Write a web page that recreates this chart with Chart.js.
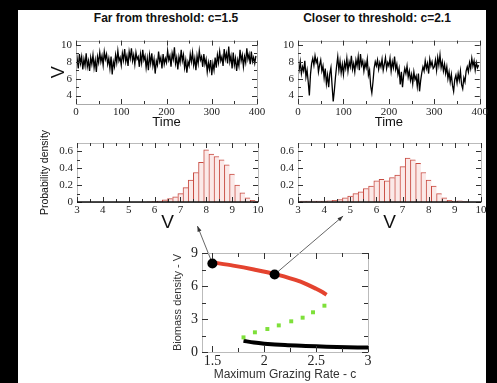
<!DOCTYPE html>
<html>
<head>
<meta charset="utf-8">
<script src="https://cdn.jsdelivr.net/npm/chart.js@4.4.1/dist/chart.umd.min.js"></script>
<style>
    html, body { margin: 0; padding: 0; background: #000; width: 497px; height: 383px; overflow: hidden; }
    #paper { position: absolute; left: 18px; top: 10px; width: 468px; height: 373px; background: #fff; }
    canvas { position: absolute; }
    .panel-title {
        position: absolute; transform: translateX(-50%); white-space: nowrap;
        font: bold 12px "Liberation Sans", Arial, sans-serif; color: #111;
    }
</style>
</head>
<body>
<div id="paper"></div>
<div class="panel-title" style="left:166px; top:11px;">Far from threshold: c=1.5</div>
<div class="panel-title" style="left:377px; top:11px;">Closer to threshold: c=2.1</div>
<canvas id="tsLeft" width="250" height="100" style="left:20px; top:30px;"></canvas>
<canvas id="tsRight" width="240" height="100" style="left:250px; top:30px;"></canvas>
<canvas id="histLeft" width="250" height="115" style="left:25px; top:120px;"></canvas>
<canvas id="histRight" width="240" height="115" style="left:250px; top:120px;"></canvas>
<canvas id="bifurcation" width="245" height="188" style="left:140px; top:195px;"></canvas>

<script>
/**
 * Biomass time series, histograms and bifurcation diagram
 */

// time series (one value every 2.5 time units, t = 0 ... 397.5)
const TIME_STEP = 2.5;
const V_FAR = [
    7.6, 8.4, 7.2, 8.9, 7.8, 8.6, 7.1, 8.3, 7.5, 9.0,
    7.4, 8.1, 6.9, 8.5, 7.7, 8.8, 7.3, 8.2, 6.8, 8.6,
    7.9, 9.1, 8.0, 8.7, 7.6, 9.2, 8.3, 8.9, 7.7, 8.4,
    7.2, 8.6, 6.5, 8.0, 7.4, 8.8, 7.9, 9.3, 8.1, 8.5,
    7.6, 9.0, 8.2, 9.5, 8.0, 8.7, 7.5, 9.2, 8.4, 9.6,
    8.1, 8.8, 7.7, 9.1, 8.3, 8.6, 7.4, 8.9, 7.9, 9.4,
    8.2, 8.7, 7.3, 8.4, 7.0, 8.8, 7.8, 9.0, 7.5, 8.3,
    6.6, 8.1, 7.6, 9.2, 8.0, 8.5, 7.2, 8.9, 7.7, 8.4,
    7.9, 9.3, 8.2, 8.7, 7.4, 9.0, 8.3, 9.7, 7.8, 8.5,
    7.1, 8.6, 7.9, 9.4, 8.1, 8.8, 7.3, 8.2, 6.7, 8.0,
    7.5, 8.9, 8.0, 9.1, 7.6, 8.4, 7.0, 8.7, 7.8, 9.3,
    8.2, 8.6, 7.4, 8.9, 7.7, 8.3, 6.8, 7.9, 7.1, 8.2,
    6.4, 7.8, 7.0, 8.5, 7.3, 8.8, 7.9, 9.2, 8.1, 8.6,
    7.5, 9.5, 8.3, 9.0, 7.8, 9.8, 8.0, 8.7, 7.2, 9.1,
    7.6, 8.4, 6.9, 8.2, 7.5, 9.4, 8.1, 8.8, 7.4, 8.6,
    7.9, 9.6, 8.3, 8.9, 7.7, 9.2, 8.0, 8.5, 7.8, 8.7
];
const V_CLOSE = [
    7.6, 7.0, 8.0, 6.6, 7.4, 6.9, 8.1, 6.2, 7.0, 5.6,
    4.0, 6.5, 7.8, 8.4, 7.6, 8.7, 7.9, 8.3, 6.8, 7.6,
    8.2, 6.9, 7.5, 6.1, 7.2, 5.4, 6.4, 5.0, 6.6, 7.3,
    5.2, 3.3, 4.6, 6.2, 7.5, 8.6, 7.0, 8.1, 6.7, 7.7,
    6.5, 7.9, 7.2, 8.4, 6.9, 8.0, 7.4, 8.7, 7.1, 7.8,
    6.8, 8.2, 7.5, 8.6, 7.0, 8.9, 7.6, 8.1, 6.9, 7.9,
    7.3, 8.3, 6.4, 7.0, 5.1, 4.3, 5.6, 7.2, 8.0, 7.5,
    8.2, 7.1, 7.9, 7.4, 8.3, 7.0, 7.7, 8.5, 7.2, 7.9,
    7.5, 8.4, 6.9, 8.0, 7.3, 8.6, 7.1, 7.7, 6.5, 7.2,
    5.3, 6.8, 5.0, 6.4, 7.2, 6.6, 7.5, 6.2, 6.9, 5.8,
    6.5, 5.4, 6.8, 5.9, 6.3, 5.1, 6.6, 4.5, 5.8, 6.7,
    7.4, 6.9, 8.1, 7.2, 7.8, 6.6, 8.3, 7.5, 8.0, 7.2,
    7.4, 8.2, 7.0, 8.5, 7.6, 8.8, 7.3, 8.0, 6.9, 7.7,
    6.6, 7.4, 6.0, 6.8, 5.6, 6.5, 5.2, 4.5, 5.9, 6.4,
    5.5, 6.6, 5.8, 6.9, 5.3, 4.8, 6.1, 5.6, 6.9, 7.4,
    6.8, 7.9, 7.2, 8.4, 7.5, 8.1, 7.0, 7.9, 7.3, 7.6
];
const TIME_TICKS = [0, 100, 200, 300, 400];
const TS_V_TICKS = [4, 6, 8, 10];

// histograms (bin centres, bin width 0.2)
const BIN_CENTERS = [
    3.2, 3.4, 3.6, 3.8, 4.0, 4.2, 4.4, 4.6, 4.8, 5.0,
    5.2, 5.4, 5.6, 5.8, 6.0, 6.2, 6.4, 6.6, 6.8, 7.0,
    7.2, 7.4, 7.6, 7.8, 8.0, 8.2, 8.4, 8.6, 8.8, 9.0,
    9.2, 9.4, 9.6, 9.8, 10.0
];
const DENSITY_FAR = [
    0, 0, 0, 0, 0, 0, 0, 0, 0, 0,
    0, 0, 0, 0.003, 0.005, 0.012, 0.025, 0.04, 0.06, 0.1,
    0.17, 0.26, 0.35, 0.47, 0.62, 0.57, 0.54, 0.5, 0.44, 0.33,
    0.2, 0.11, 0.05, 0.02, 0.005
];
const DENSITY_CLOSE = [
    0.01, 0.01, 0.01, 0.01, 0.01, 0.015, 0.02, 0.03, 0.05, 0.07,
    0.1, 0.12, 0.16, 0.19, 0.25, 0.27, 0.25, 0.29, 0.32, 0.42,
    0.52, 0.5, 0.46, 0.35, 0.26, 0.19, 0.1, 0.05, 0.02, 0.01,
    0.015, 0.005, 0, 0, 0
];
const HIST_V_TICKS = [3, 4, 5, 6, 7, 8, 9, 10];
const DENSITY_TICKS = [0, 0.2, 0.4, 0.6];

// bifurcation diagram
const UPPER_C = [1.5, 1.7, 1.9, 2.1, 2.3, 2.4, 2.5, 2.56, 2.6];
const UPPER_V = [8.15, 7.85, 7.5, 7.1, 6.55, 6.2, 5.75, 5.45, 5.2];
const UNSTABLE_C = [1.80, 1.91, 2.03, 2.14, 2.26, 2.37, 2.47, 2.58];
const UNSTABLE_V = [1.33, 1.79, 2.09, 2.42, 2.79, 3.12, 3.61, 4.21];
const LOWER_C = [1.8, 1.9, 2.0, 2.2, 2.4, 2.6, 2.8, 3.0];
const LOWER_V = [1.02, 0.86, 0.76, 0.63, 0.55, 0.48, 0.43, 0.4];
const MARKED_C = [1.5, 2.1];
const MARKED_V = [8.05, 7.05];
// where the two arrows end (in c / V units of the diagram)
const ARROW_END_C = [1.356, 2.76];
const ARROW_END_V = [11.45, 12.36];
const GRAZING_TICKS = [1.5, 2, 2.5, 3];
const BIOMASS_TICKS = [0, 3, 6, 9];

const SERIF = '"Liberation Serif", "Times New Roman", serif';
const SANS = '"Liberation Sans", Arial, sans-serif';

/**
 * 프레임 + 안쪽으로 향하는 눈금 (gnuplot 스타일)
 */
const frameTicks = {
    id: 'frameTicks',
    afterDraw(chart, args, opts) {
        const { ctx, chartArea: a, scales } = chart;
        const major = opts.major || 5;
        const minor = opts.minor || 3;
        ctx.save();
        ctx.lineWidth = 1;
        ctx.strokeStyle = opts.frameColor || '#aaa';
        ctx.strokeRect(Math.round(a.left) + 0.5, Math.round(a.top) + 0.5,
            Math.round(a.right - a.left), Math.round(a.bottom - a.top));

        ctx.strokeStyle = opts.tickColor || '#333';
        const xs = scales.x.ticks.map(t => t.value);
        const ys = scales.y.ticks.map(t => t.value);
        const mids = arr => arr.slice(1).map((v, i) => (v + arr[i]) / 2);

        ctx.beginPath();
        const xTick = (v, len) => {
            const px = Math.round(scales.x.getPixelForValue(v)) + 0.5;
            if (px < a.left - 1 || px > a.right + 1) return;
            ctx.moveTo(px, a.bottom); ctx.lineTo(px, a.bottom - len);
            ctx.moveTo(px, a.top); ctx.lineTo(px, a.top + len);
        };
        const yTick = (v, len) => {
            const py = Math.round(scales.y.getPixelForValue(v)) + 0.5;
            if (py < a.top - 1 || py > a.bottom + 1) return;
            ctx.moveTo(a.left, py); ctx.lineTo(a.left + len, py);
            ctx.moveTo(a.right, py); ctx.lineTo(a.right - len, py);
        };
        xs.forEach(v => xTick(v, major));
        mids(xs).forEach(v => xTick(v, minor));
        ys.forEach(v => yTick(v, major));
        mids(ys).forEach(v => yTick(v, minor));
        ctx.stroke();

        if (opts.baseColor) {
            ctx.strokeStyle = opts.baseColor;
            ctx.lineWidth = 1.5;
            ctx.beginPath();
            ctx.moveTo(a.left, a.bottom); ctx.lineTo(a.right, a.bottom);
            ctx.stroke();
        }
        ctx.restore();
    }
};

/**
 * 점에서 히스토그램 쪽으로 향하는 화살표
 */
const arrows = {
    id: 'arrows',
    beforeDatasetsDraw(chart) {
        const { ctx, scales } = chart;
        ctx.save();
        ctx.strokeStyle = '#555';
        ctx.fillStyle = '#333';
        ctx.lineWidth = 0.9;
        MARKED_C.forEach((c, i) => {
            const x0 = scales.x.getPixelForValue(c);
            const y0 = scales.y.getPixelForValue(MARKED_V[i]);
            const x1 = scales.x.getPixelForValue(ARROW_END_C[i]);
            const y1 = scales.y.getPixelForValue(ARROW_END_V[i]);
            const ang = Math.atan2(y1 - y0, x1 - x0);
            ctx.beginPath();
            ctx.moveTo(x0, y0);
            ctx.lineTo(x1, y1);
            ctx.stroke();
            ctx.beginPath();
            ctx.moveTo(x1, y1);
            ctx.lineTo(x1 - 6 * Math.cos(ang - 0.35), y1 - 6 * Math.sin(ang - 0.35));
            ctx.lineTo(x1 - 6 * Math.cos(ang + 0.35), y1 - 6 * Math.sin(ang + 0.35));
            ctx.closePath();
            ctx.fill();
        });
        ctx.restore();
    }
};

function fixedTicks(values) {
    return function(scale) {
        scale.ticks = values.map(v => ({ value: v }));
    };
}

const plainLabel = value => String(value);

function baseOptions(pad) {
    return {
        responsive: false,
        animation: false,
        events: [],
        layout: { padding: pad },
        plugins: {
            legend: { display: false },
            tooltip: { enabled: false }
        }
    };
}

/**
 * 시계열 차트
 */
function makeTimeSeries(id, values, yWidth, padRight, showTitle) {
    const points = values.map((v, i) => ({ x: i * TIME_STEP, y: v }));
    const options = baseOptions({ left: 0, right: padRight, top: 10, bottom: 0 });
    options.plugins.frameTicks = { major: 5, minor: 3, frameColor: '#aaa', tickColor: '#333' };
    options.scales = {
        x: {
            type: 'linear', min: 0, max: 400,
            afterBuildTicks: fixedTicks(TIME_TICKS),
            afterFit: s => { s.height = 26; },
            grid: { display: false, drawTicks: false },
            border: { display: false },
            ticks: { color: '#222', padding: 2, callback: plainLabel, font: { family: SERIF, size: 11 } },
            title: {
                display: true, text: 'Time', color: '#111',
                font: { family: SANS, size: 13 }, padding: { top: 0, bottom: 0 }
            }
        },
        y: {
            min: 3, max: 10.5,
            afterBuildTicks: fixedTicks(TS_V_TICKS),
            afterFit: s => { s.width = yWidth; },
            grid: { display: false, drawTicks: false },
            border: { display: false },
            ticks: { color: '#222', padding: 4, callback: plainLabel, font: { family: SERIF, size: 11 } },
            title: {
                display: showTitle, text: 'V', color: '#111',
                font: { family: SANS, size: 18 }, padding: { top: 28, bottom: 0 }
            }
        }
    };
    return new Chart(document.getElementById(id), {
        type: 'line',
        data: {
            datasets: [{
                data: points,
                borderColor: '#000',
                borderWidth: 1.3,
                pointRadius: 0,
                tension: 0
            }]
        },
        options: options,
        plugins: [frameTicks]
    });
}

/**
 * 확률밀도 히스토그램
 */
function makeHistogram(id, density, yWidth, padRight, showTitle) {
    const bars = BIN_CENTERS.map((x, i) => ({ x: x, y: density[i] }));
    const options = baseOptions({ left: 0, right: padRight, top: 23, bottom: 0 });
    options.plugins.frameTicks = { major: 5, minor: 3, frameColor: '#bbb', tickColor: '#333', baseColor: '#111' };
    options.scales = {
        x: {
            type: 'linear', min: 3, max: 10, offset: false,
            afterBuildTicks: fixedTicks(HIST_V_TICKS),
            afterFit: s => { s.height = 33; },
            grid: { display: false, drawTicks: false },
            border: { display: false },
            ticks: { color: '#222', padding: 2, callback: plainLabel, font: { family: SERIF, size: 11 } },
            title: {
                display: true, text: 'V', color: '#111',
                font: { family: SANS, size: 19 }, padding: { top: 0, bottom: 0.5 }
            }
        },
        y: {
            min: 0, max: 0.7,
            afterBuildTicks: fixedTicks(DENSITY_TICKS),
            afterFit: s => { s.width = yWidth; },
            grid: { display: false, drawTicks: false },
            border: { display: false },
            ticks: { color: '#222', padding: 4, callback: plainLabel, font: { family: SERIF, size: 11 } },
            title: {
                display: showTitle, text: 'Probability density', color: '#111',
                font: { family: SANS, size: 10.5 }, padding: { top: 13.5, bottom: 0 }
            }
        }
    };
    return new Chart(document.getElementById(id), {
        type: 'bar',
        data: {
            datasets: [{
                data: bars,
                backgroundColor: '#fbe9e8',
                borderColor: '#c84a40',
                borderWidth: { left: 1, top: 1, right: 0, bottom: 0 },
                borderSkipped: false,
                barPercentage: 1,
                categoryPercentage: 1
            }]
        },
        options: options,
        plugins: [frameTicks]
    });
}

/**
 * 최대 섭식률에 따른 분기 다이어그램
 */
function makeBifurcation() {
    const toXY = (cs, vs) => cs.map((c, i) => ({ x: c, y: vs[i] }));
    const options = baseOptions({ left: 0, right: 17, top: 58, bottom: 0 });
    options.plugins.frameTicks = { major: 6, minor: 4, frameColor: '#bbb', tickColor: '#333' };
    options.scales = {
        x: {
            type: 'linear', min: 1.4, max: 3,
            afterBuildTicks: fixedTicks(GRAZING_TICKS),
            afterFit: s => { s.height = 31; },
            grid: { display: false, drawTicks: false },
            border: { display: false },
            ticks: { color: '#222', padding: 1, callback: plainLabel, font: { family: SERIF, size: 14 } },
            title: {
                display: true, text: 'Maximum Grazing Rate - c', color: '#333',
                font: { family: SANS, size: 12 }, padding: { top: 0, bottom: 1 }
            }
        },
        y: {
            min: 0, max: 9,
            afterBuildTicks: fixedTicks(BIOMASS_TICKS),
            afterFit: s => { s.width = 62; },
            grid: { display: false, drawTicks: false },
            border: { display: false },
            ticks: { color: '#222', padding: 4, callback: plainLabel, font: { family: SERIF, size: 14 } },
            title: {
                display: true, text: 'Biomass density - V', color: '#333',
                font: { family: SANS, size: 11 }, padding: { top: 31, bottom: 0 }
            }
        }
    };
    return new Chart(document.getElementById('bifurcation'), {
        type: 'scatter',
        data: {
            datasets: [
                {
                    data: toXY(MARKED_C, MARKED_V),
                    backgroundColor: '#000', borderWidth: 0, pointRadius: 5
                },
                {
                    data: toXY(UPPER_C, UPPER_V), showLine: true,
                    borderColor: '#e4432f', borderWidth: 4, pointRadius: 0, tension: 0.3
                },
                {
                    data: toXY(UNSTABLE_C, UNSTABLE_V),
                    backgroundColor: '#7ee03a', borderWidth: 0, pointStyle: 'rect', pointRadius: 2.8
                },
                {
                    data: toXY(LOWER_C, LOWER_V), showLine: true,
                    borderColor: '#000', borderWidth: 4, pointRadius: 0, tension: 0.3
                }
            ]
        },
        options: options,
        plugins: [frameTicks, arrows]
    });
}

makeTimeSeries('tsLeft', V_FAR, 56, 13, true);
makeTimeSeries('tsRight', V_CLOSE, 48, 10, false);
makeHistogram('histLeft', DENSITY_FAR, 52, 17, true);
makeHistogram('histRight', DENSITY_CLOSE, 48, 9, false);
makeBifurcation();
</script>
</body>
</html>
